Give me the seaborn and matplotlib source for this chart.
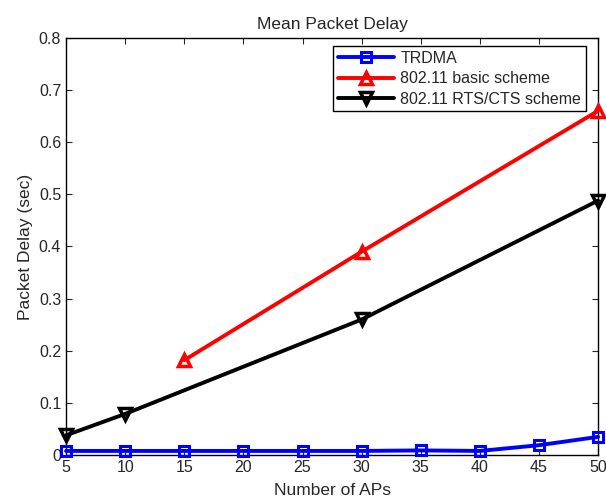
import seaborn as sns
import matplotlib.pyplot as plt

# data
aps = [5, 10, 15, 20, 25, 30, 35, 40, 45, 50]
trdma = [0.008, 0.008, 0.008, 0.008, 0.008, 0.008, 0.009, 0.008, 0.019, 0.035]
basic_x = [15, 30, 50]
basic = [0.182, 0.39, 0.66]
rts_x = [5, 10, 30, 50]
rts = [0.038, 0.079, 0.26, 0.488]

sns.set_style("ticks")
plt.rcParams['font.family'] = ['Liberation Sans', 'DejaVu Sans']

fig = plt.figure(figsize=(6.06, 5.04), dpi=100)
ax = fig.add_axes([0.109, 0.097, 0.878, 0.828])

#TRDMA
sns.lineplot(x=aps, y=trdma, ax=ax, color="blue", lw=2.8, marker="s", ms=7,
             markerfacecolor="none", markeredgecolor="blue", markeredgewidth=2.2,
             label="TRDMA", clip_on=False, zorder=3)
#802.11 basic
sns.lineplot(x=basic_x, y=basic, ax=ax, color="red", lw=2.8, marker="^", ms=9,
             markerfacecolor="none", markeredgecolor="red", markeredgewidth=2.5,
             label="802.11 basic scheme", clip_on=False, zorder=3)
#802.11 RTS/CTS
sns.lineplot(x=rts_x, y=rts, ax=ax, color="black", lw=2.8, marker="v", ms=9,
             markerfacecolor="none", markeredgecolor="black", markeredgewidth=2.5,
             label="802.11 RTS/CTS scheme", clip_on=False, zorder=3)

ax.set_xlim(5, 50)
ax.set_ylim(0, 0.8)
ax.set_xticks(aps)
ax.set_yticks([0, 0.1, 0.2, 0.3, 0.4, 0.5, 0.6, 0.7, 0.8])
ax.set_yticklabels(["0", "0.1", "0.2", "0.3", "0.4", "0.5", "0.6", "0.7", "0.8"])
ax.tick_params(direction="in", top=True, right=True, labelsize=11.5, length=4)
for s in ax.spines.values():
    s.set_linewidth(1.0)
    s.set_color("black")

ax.set_xlabel("Number of APs", fontsize=12.5, labelpad=6)
ax.set_ylabel("Packet Delay (sec)", fontsize=12.5)
ax.set_title("Mean Packet Delay", fontsize=12.5)

leg = ax.legend(loc="upper right", fontsize=11.5, fancybox=False, framealpha=1,
                edgecolor="black", borderpad=0.3, labelspacing=0.35, handlelength=3.5,
                handletextpad=0.4, borderaxespad=0, bbox_to_anchor=(0.977, 0.981))
leg.get_frame().set_linewidth(1.0)

fig.savefig("out.png", dpi=100)
